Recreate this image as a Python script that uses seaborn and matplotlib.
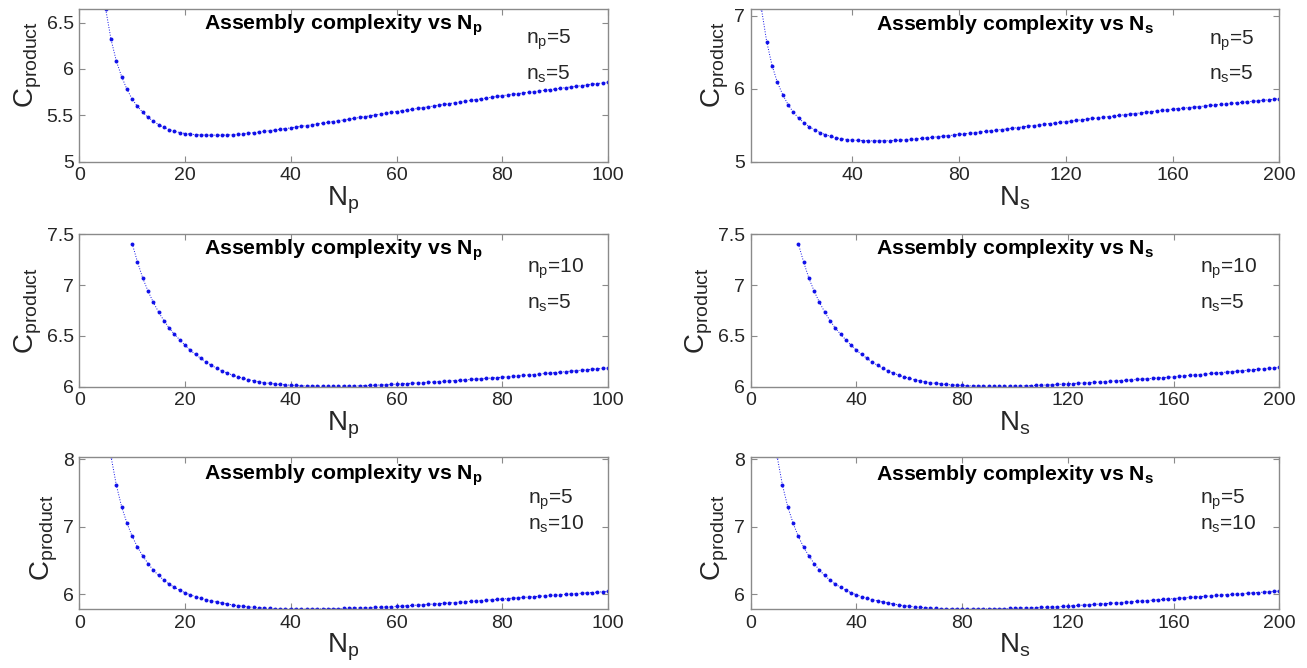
import matplotlib
matplotlib.use("Agg")
import matplotlib.pyplot as plt
import seaborn as sns
import pandas as pd
from matplotlib.ticker import FuncFormatter

# ---------------- data ----------------
# Top row: n_p = 5, n_s = 5
Np_top = list(range(5, 101))
C_top_Np = [6.643, 6.318, 6.086, 5.918, 5.782, 5.675, 5.596, 5.532, 5.479, 5.436,
            5.400, 5.370, 5.346, 5.328, 5.314, 5.304, 5.297, 5.292, 5.289, 5.287,
            5.286, 5.286, 5.2865, 5.288, 5.291, 5.295, 5.300, 5.306, 5.313, 5.320,
            5.327, 5.334, 5.342, 5.349, 5.357, 5.365, 5.373, 5.382, 5.390, 5.399,
            5.407, 5.416, 5.424, 5.433, 5.441, 5.450, 5.459, 5.468, 5.477, 5.486,
            5.495, 5.504, 5.513, 5.522, 5.531, 5.540, 5.549, 5.557, 5.566, 5.574,
            5.583, 5.592, 5.600, 5.609, 5.617, 5.626, 5.635, 5.643, 5.652, 5.660,
            5.669, 5.678, 5.686, 5.695, 5.703, 5.712, 5.719, 5.727, 5.734, 5.741,
            5.748, 5.755, 5.763, 5.770, 5.777, 5.784, 5.791, 5.799, 5.806, 5.813,
            5.820, 5.827, 5.835, 5.842, 5.849, 5.856]
Ns_top = list(range(6, 201, 2))
C_top_Ns = [7.100, 6.643, 6.318, 6.086, 5.918, 5.782, 5.675, 5.596, 5.532, 5.479, 5.436,
            5.400, 5.370, 5.346, 5.328, 5.314, 5.304, 5.297, 5.292, 5.289, 5.287,
            5.286, 5.286, 5.2865, 5.288, 5.291, 5.295, 5.300, 5.306, 5.313, 5.320,
            5.327, 5.334, 5.342, 5.349, 5.357, 5.365, 5.373, 5.382, 5.390, 5.399,
            5.407, 5.416, 5.424, 5.433, 5.441, 5.450, 5.459, 5.468, 5.477, 5.486,
            5.495, 5.504, 5.513, 5.522, 5.531, 5.540, 5.549, 5.557, 5.566, 5.574,
            5.583, 5.592, 5.600, 5.609, 5.617, 5.626, 5.635, 5.643, 5.652, 5.660,
            5.669, 5.678, 5.686, 5.695, 5.703, 5.712, 5.719, 5.727, 5.734, 5.741,
            5.748, 5.755, 5.763, 5.770, 5.777, 5.784, 5.791, 5.799, 5.806, 5.813,
            5.820, 5.827, 5.835, 5.842, 5.849, 5.856, 5.863]

# Middle row: n_p = 10, n_s = 5
Np_mid = list(range(10, 101))
C_mid_Np = [7.408, 7.229, 7.069, 6.941, 6.830, 6.735, 6.650, 6.578, 6.516, 6.461,
            6.408, 6.359, 6.317, 6.278, 6.242, 6.210, 6.181, 6.156, 6.134, 6.114,
            6.097, 6.082, 6.069, 6.058, 6.048, 6.040, 6.033, 6.027, 6.022, 6.018,
            6.015, 6.012, 6.010, 6.008, 6.007, 6.006, 6.005, 6.005, 6.005, 6.005,
            6.006, 6.007, 6.008, 6.009, 6.011, 6.013, 6.015, 6.017, 6.019, 6.022,
            6.025, 6.028, 6.031, 6.034, 6.037, 6.040, 6.043, 6.046, 6.050, 6.053,
            6.057, 6.060, 6.064, 6.067, 6.071, 6.075, 6.078, 6.082, 6.086, 6.089,
            6.093, 6.097, 6.102, 6.106, 6.111, 6.116, 6.120, 6.125, 6.130, 6.134,
            6.139, 6.144, 6.148, 6.153, 6.158, 6.162, 6.167, 6.172, 6.176, 6.181,
            6.186]
Ns_mid = list(range(18, 201, 2))
C_mid_Ns = [7.408, 7.229, 7.069, 6.941, 6.830, 6.735, 6.650, 6.578, 6.516, 6.461,
            6.408, 6.359, 6.317, 6.278, 6.242, 6.210, 6.181, 6.156, 6.134, 6.114,
            6.097, 6.082, 6.069, 6.058, 6.048, 6.040, 6.033, 6.027, 6.022, 6.018,
            6.015, 6.012, 6.010, 6.008, 6.007, 6.006, 6.005, 6.005, 6.005, 6.005,
            6.006, 6.007, 6.008, 6.009, 6.011, 6.013, 6.015, 6.017, 6.019, 6.022,
            6.025, 6.028, 6.031, 6.034, 6.037, 6.040, 6.043, 6.046, 6.050, 6.053,
            6.057, 6.060, 6.064, 6.067, 6.071, 6.075, 6.078, 6.082, 6.086, 6.089,
            6.093, 6.097, 6.102, 6.106, 6.111, 6.116, 6.120, 6.125, 6.130, 6.134,
            6.139, 6.144, 6.148, 6.153, 6.158, 6.162, 6.167, 6.172, 6.176, 6.181,
            6.186, 6.191]

# Bottom row: n_p = 5, n_s = 10
Np_bot = list(range(6, 101))
C_bot_Np = [8.044, 7.620, 7.300, 7.057, 6.859, 6.700, 6.568, 6.454, 6.356, 6.277,
            6.207, 6.150, 6.100, 6.058, 6.020, 5.990, 5.963, 5.939, 5.918, 5.899,
            5.882, 5.866, 5.852, 5.840, 5.829, 5.820, 5.811, 5.804, 5.798, 5.793,
            5.789, 5.785, 5.782, 5.780, 5.779, 5.778, 5.778, 5.778, 5.779, 5.780,
            5.781, 5.782, 5.784, 5.786, 5.788, 5.790, 5.793, 5.795, 5.798, 5.801,
            5.804, 5.807, 5.810, 5.813, 5.817, 5.822, 5.827, 5.832, 5.837, 5.842,
            5.848, 5.853, 5.859, 5.864, 5.870, 5.875, 5.881, 5.887, 5.892, 5.898,
            5.904, 5.910, 5.916, 5.922, 5.928, 5.934, 5.940, 5.945, 5.951, 5.957,
            5.963, 5.968, 5.974, 5.980, 5.985, 5.991, 5.997, 6.002, 6.008, 6.013,
            6.019, 6.024, 6.030, 6.035, 6.041]
Ns_bot = list(range(10, 201, 2))
C_bot_Ns = C_bot_Np + [6.046]

panels = [
    # (x, y, xlabel sub, n_p, n_s, xlim, ylim, xticks, yticks)
    (Np_top, C_top_Np, "p", "5", "5", (0, 100), (5, 6.643), [0, 20, 40, 60, 80, 100], [5, 5.5, 6, 6.5]),
    (Ns_top, C_top_Ns, "s", "5", "5", (2, 200), (5, 7.088), [40, 80, 120, 160, 200], [5, 6, 7]),
    (Np_mid, C_mid_Np, "p", "10", "5", (0, 100), (6, 7.5), [0, 20, 40, 60, 80, 100], [6, 6.5, 7, 7.5]),
    (Ns_mid, C_mid_Ns, "s", "10", "5", (0, 200), (6, 7.5), [0, 40, 80, 120, 160, 200], [6, 6.5, 7, 7.5]),
    (Np_bot, C_bot_Np, "p", "5", "10", (0, 100), (5.778, 8.04), [0, 20, 40, 60, 80, 100], [6, 7, 8]),
    (Ns_bot, C_bot_Ns, "s", "5", "10", (0, 200), (5.778, 8.04), [0, 40, 80, 120, 160, 200], [6, 7, 8]),
]

# ---------------- styling ----------------
sns.set_style("white")
plt.rcParams["font.family"] = ["Liberation Sans", "DejaVu Sans"]
plt.rcParams["mathtext.fontset"] = "custom"
plt.rcParams["mathtext.rm"] = "Liberation Sans"
plt.rcParams["mathtext.it"] = "Liberation Sans"
plt.rcParams["mathtext.bf"] = "Liberation Sans:bold"
plt.rcParams["mathtext.default"] = "regular"

W, H = 1307, 668
fig = plt.figure(figsize=(W / 100, H / 100), dpi=100)

col_left = [79.3, 750.7]
ax_w = 528.7
row_top = [9.3, 234.3, 456.7]
ax_h = 152.4
ylabel_y = [0.64, 0.5, 0.47]

text_pos = [
    (0.845, 0.777, 0.54, 0.864),
    (0.866, 0.770, 0.54, 0.864),
    (0.847, 0.750, 0.512, 0.868),
    (0.849, 0.750, 0.512, 0.868),
    (0.848, 0.694, 0.519, 0.850),
    (0.849, 0.694, 0.519, 0.850),
]

spine_col = "#8a8a8a"
text_col = "#262626"

for i, (x, y, sub, npv, nsv, xl, yl, xt, yt) in enumerate(panels):
    r, c = divmod(i, 2)
    left = col_left[c] / W
    bottom = 1 - (row_top[r] + ax_h) / H
    ax = fig.add_axes([left, bottom, ax_w / W, ax_h / H])
    df = pd.DataFrame({"x": x, "y": y})
    sns.lineplot(data=df, x="x", y="y", ax=ax, color="#1010e8", linestyle=":",
                 linewidth=0.7, marker="o", markersize=2.8, markeredgewidth=0,
                 sort=False)
    ax.set_xlim(*xl)
    ax.set_ylim(*yl)
    ax.set_xticks(xt)
    ax.set_yticks(yt)
    ax.xaxis.set_major_formatter(FuncFormatter(lambda v, p: f"{v:g}"))
    ax.yaxis.set_major_formatter(FuncFormatter(lambda v, p: f"{v:g}"))
    ax.tick_params(direction="in", length=4, width=0.8, color=spine_col,
                   labelsize=14, labelcolor=text_col, top=True, right=True,
                   bottom=True, left=True, pad=4)
    for s in ax.spines.values():
        s.set_visible(True)
        s.set_color(spine_col)
        s.set_linewidth(1.0)
    ax.set_xlabel(r"$N_{%s}$" % sub, fontsize=20, color=text_col, labelpad=0)
    ax.set_ylabel(r"$C_{product}$", fontsize=20, color=text_col, labelpad=2,
                  y=ylabel_y[r])
    tx, ty1, ty2, tty = text_pos[i]
    ax.text(0.5, tty, r"Assembly complexity vs $\mathbf{N_{%s}}$" % sub,
            transform=ax.transAxes, ha="center", va="baseline", fontsize=15.3,
            fontweight="bold", color="black")
    ax.text(tx, ty1, r"$n_{p}$=%s" % npv, transform=ax.transAxes, ha="left",
            va="baseline", fontsize=15, color=text_col)
    ax.text(tx, ty2, r"$n_{s}$=%s" % nsv, transform=ax.transAxes, ha="left",
            va="baseline", fontsize=15, color=text_col)

fig.savefig("out.png", dpi=100, facecolor="white")
